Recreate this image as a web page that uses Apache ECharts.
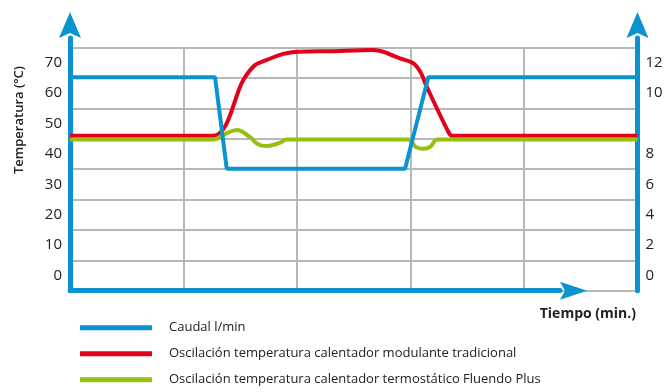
<!DOCTYPE html>
<html>
<head>
<meta charset="utf-8">
<script src="https://cdn.jsdelivr.net/npm/echarts@6/dist/echarts.min.js"></script>
<style>
  html, body { margin: 0; padding: 0; background: #ffffff; }
  #chart { width: 667px; height: 392px; }
</style>
</head>
<body>
<div id="chart"></div>
<script>
// Tick labels of the two vertical axes (one label per band)
const tempTicks = ['0', '10', '20', '30', '40', '50', '60', '70'];
const flowTicks = ['0', '2', '4', '6', '8', '', '10', '12'];

// Flow (l/min) over time (min.)
const caudalTime = [0, 1.278, 1.381, 2.952, 3.157, 5];
const caudalLmin = [11, 11, 7, 7, 11, 11];

// Outlet temperature of a traditional modulating heater
const modulanteTime = [0, 1.262, 1.527, 1.630, 1.733, 1.879, 2.026, 2.291, 2.672, 2.760, 2.907, 3.025, 3.090, 3.143, 3.330, 3.365, 5];
const modulanteTemp = [46, 46, 64.3, 69.2, 70.9, 72.9, 73.6, 73.8, 74.2, 73.6, 71.4, 69.8, 66.8, 62.1, 47.5, 46, 46];

// Outlet temperature of the Fluendo Plus thermostatic heater
const fluendoTime = [0, 1.260, 1.366, 1.469, 1.586, 1.656, 1.733, 1.845, 1.910, 2.978, 3.048, 3.113, 3.172, 3.216, 3.233, 5];
const fluendoTemp = [44.7, 44.7, 46.5, 47.9, 45.5, 43.2, 42.6, 43.6, 44.7, 44.7, 42.3, 41.7, 42.3, 44.4, 44.7, 44.7];

const seriesNames = [
  'Caudal l/min',
  'Oscilación temperatura calentador modulante tradicional',
  'Oscilación temperatura calentador termostático Fluendo Plus'
];

const BLUE = '#0a93d1';
const RED = '#e2001a';
const GREEN = '#97bf0d';
const GRID = '#b8b8b8';
const TEXT = '#222222';
const FONT = '"Open Sans", "Noto Sans", sans-serif';

const pairs = (xs, ys) => xs.map((x, i) => [x, ys[i]]);

// Arrow heads for the axis lines (pointing along the axis direction)
const arrowUp = 'path://M11,0 L22,26 L11,21 L0,26 Z';
const arrowRight = 'path://M9,0 L18,27 L9,22 L0,27 Z';

const chart = echarts.init(document.getElementById('chart'), null, { renderer: 'canvas' });

const hiddenValue = (gridIndex, min, max) => ({
  type: 'value', gridIndex, min, max, show: false
});

chart.setOption({
  animation: false,
  backgroundColor: '#ffffff',
  textStyle: { fontFamily: FONT },
  grid: [
    // plotting area
    { left: 70, right: 29.5, top: 47.5, bottom: 101.3, containLabel: false },
    // vertical axis lines that run up to their arrows
    { left: 70, right: 29.5, top: 38, bottom: 101.3, containLabel: false },
    // time axis line, ending with an arrow before the right axis
    { left: 70, right: 107, top: 47.5, bottom: 101.3, containLabel: false }
  ],
  xAxis: [
    {
      type: 'value', gridIndex: 0, min: 0, max: 5, interval: 1,
      axisLine: { show: false }, axisTick: { show: false }, axisLabel: { show: false },
      splitLine: { show: true, lineStyle: { color: GRID, width: 2 } }
    },
    {
      type: 'value', gridIndex: 1, min: 0, max: 1,
      axisLine: { show: false }, axisTick: { show: false }, axisLabel: { show: false },
      splitLine: { show: false }
    },
    {
      type: 'value', gridIndex: 2, min: 0, max: 1,
      axisLine: {
        show: true, onZero: false,
        lineStyle: { color: BLUE, width: 5 },
        symbol: ['none', arrowRight], symbolSize: [18, 27], symbolOffset: [0, 13.5]
      },
      axisTick: { show: false }, axisLabel: { show: false }, splitLine: { show: false }
    }
  ],
  yAxis: [
    // 0: temperature labels, one per band; band edges give the horizontal grid
    {
      type: 'category', gridIndex: 0, position: 'left', data: tempTicks, boundaryGap: true,
      axisLine: { show: false }, axisTick: { show: false },
      axisLabel: { interval: 0, margin: 8, color: TEXT, fontSize: 15, fontFamily: FONT },
      splitLine: { show: true, interval: 0, lineStyle: { color: GRID, width: 2 } }
    },
    // 1: flow labels on the right
    {
      type: 'category', gridIndex: 0, position: 'right', data: flowTicks, boundaryGap: true,
      axisLine: { show: false }, axisTick: { show: false },
      axisLabel: { interval: 0, margin: 8, color: TEXT, fontSize: 15, fontFamily: FONT },
      splitLine: { show: false }
    },
    // 2: temperature scale (°C)
    hiddenValue(0, -5, 75),
    // 3: flow scale (l/min)
    hiddenValue(0, 1.667, 12.3),
    // 4, 5: left and right axis lines with arrows
    {
      type: 'value', gridIndex: 1, min: 0, max: 1, position: 'left',
      axisLine: {
        show: true, onZero: false,
        lineStyle: { color: BLUE, width: 5 },
        symbol: ['none', arrowUp], symbolSize: [22, 26], symbolOffset: [0, 13]
      },
      axisTick: { show: false }, axisLabel: { show: false }, splitLine: { show: false }
    },
    {
      type: 'value', gridIndex: 1, min: 0, max: 1, position: 'right',
      axisLine: {
        show: true, onZero: false,
        lineStyle: { color: BLUE, width: 5 },
        symbol: ['none', arrowUp], symbolSize: [22, 26], symbolOffset: [0, 13]
      },
      axisTick: { show: false }, axisLabel: { show: false }, splitLine: { show: false }
    },
    // 6: placeholder for the time-axis grid
    hiddenValue(2, 0, 1)
  ],
  legend: {
    orient: 'vertical',
    left: 80, top: 319.7,
    padding: 0,
    itemWidth: 72, itemHeight: 5, itemGap: 10,
    icon: 'rect',
    data: seriesNames,
    textStyle: { color: TEXT, fontSize: 13, lineHeight: 16, fontFamily: FONT, padding: [0, 0, 0, 12] }
  },
  graphic: [
    {
      type: 'text', x: 19.5, y: 120, rotation: Math.PI / 2,
      style: { text: 'Temperatura (°C)', fill: TEXT, font: '600 13px ' + FONT, align: 'center', verticalAlign: 'middle' }
    },
    {
      type: 'text', x: 636, y: 314,
      style: { text: 'Tiempo (min.)', fill: TEXT, font: 'bold 14px ' + FONT, align: 'right', verticalAlign: 'middle' }
    }
  ],
  series: [
    {
      name: seriesNames[0], type: 'line', xAxisIndex: 0, yAxisIndex: 3,
      data: pairs(caudalTime, caudalLmin), showSymbol: false, symbol: 'none',
      lineStyle: { color: BLUE, width: 4 }, itemStyle: { color: BLUE }, z: 3
    },
    {
      name: seriesNames[1], type: 'line', xAxisIndex: 0, yAxisIndex: 2,
      data: pairs(modulanteTime, modulanteTemp), showSymbol: false, symbol: 'none',
      smooth: 0.3,
      lineStyle: { color: RED, width: 4 }, itemStyle: { color: RED }, z: 2
    },
    {
      name: seriesNames[2], type: 'line', xAxisIndex: 0, yAxisIndex: 2,
      data: pairs(fluendoTime, fluendoTemp), showSymbol: false, symbol: 'none',
      smooth: 0.4,
      lineStyle: { color: GREEN, width: 4 }, itemStyle: { color: GREEN }, z: 2
    }
  ]
});
</script>
</body>
</html>
